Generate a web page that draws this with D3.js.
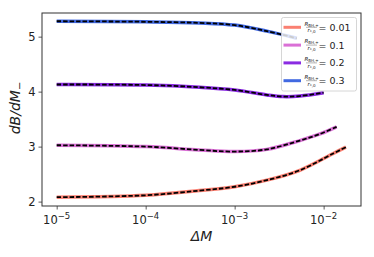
<!DOCTYPE html>
<html>
<head>
<meta charset="utf-8">
<script src="https://cdn.jsdelivr.net/npm/d3@7"></script>
<style>
body { margin: 0; background: #fff; }
text { font-family: "DejaVu Sans", sans-serif; fill: #222; }
</style>
</head>
<body>
<div id="chart"></div>
<script>
// chart values
const ratios = ["0.01", "0.1", "0.2", "0.3"];
const colors = ["#fa8072", "#da70d6", "#8a2be2", "#4169e1"];

const dm001 = [1e-5, 1e-4, 4e-4, 1e-3, 2.3e-3, 5.4e-3, 1.3e-2, 1.78e-2];
const val001 = [2.08, 2.115, 2.20, 2.27, 2.39, 2.57, 2.88, 2.99];
const dm01 = [1e-5, 1e-4, 4e-4, 1e-3, 2.3e-3, 5.4e-3, 9.1e-3, 1.4e-2];
const val01 = [3.025, 3.00, 2.94, 2.91, 2.95, 3.11, 3.23, 3.36];
const dm02 = [1e-5, 1e-4, 4e-4, 1e-3, 2.3e-3, 3.5e-3, 5.4e-3, 1e-2];
const val02 = [4.13, 4.12, 4.08, 4.03, 3.94, 3.91, 3.92, 3.98];
const dm03 = [1e-5, 1e-4, 4e-4, 1e-3, 2.3e-3, 5e-3];
const val03 = [5.28, 5.27, 5.25, 5.21, 5.10, 4.97];

const xTicks = [1e-5, 1e-4, 1e-3, 1e-2];
const xTickExp = ["\u22125", "\u22124", "\u22123", "\u22122"];
const yTicks = [2, 3, 4, 5];

const width = 374, height = 257;
const margin = { top: 13, bottom: 51, left: 42, right: 13 };

const svg = d3.select("#chart").append("svg")
    .attr("width", width)
    .attr("height", height);

const x = d3.scaleLog()
    .domain([Math.pow(10, -5.165), Math.pow(10, -1.58)])
    .range([margin.left, width - margin.right]);
const y = d3.scaleLinear()
    .domain([1.92, 5.43])
    .range([height - margin.bottom, margin.top]);

const series = [
  { dm: dm001, val: val001 },
  { dm: dm01, val: val01 },
  { dm: dm02, val: val02 },
  { dm: dm03, val: val03 }
].map((s, i) => ({ color: colors[i], label: ratios[i],
    pts: s.dm.map((d, j) => [d, s.val[j]]) }));

const line = d3.line()
    .x(d => x(d[0]))
    .y(d => y(d[1]))
    .curve(d3.curveCatmullRom.alpha(0.5));

// curves: thick coloured line with black dashes on top
const gl = svg.append("g");
series.forEach(s => {
  gl.append("path").datum(s.pts)
    .attr("d", line).attr("fill", "none")
    .attr("stroke", s.color).attr("stroke-width", 3.5);
  gl.append("path").datum(s.pts)
    .attr("d", line).attr("fill", "none")
    .attr("stroke", "#000").attr("stroke-width", 1.8)
    .attr("stroke-dasharray", "4.5,2");
});

// x axis, major + minor ticks
const minor = [];
for (let e = -6; e <= -1; e++) {
  for (let k = 2; k <= 9; k++) {
    const v = k * Math.pow(10, e);
    if (v > x.domain()[0] && v < x.domain()[1]) minor.push(v);
  }
}
const xb = height - margin.bottom;
const gx = svg.append("g").attr("transform", `translate(0,${xb})`);
gx.call(d3.axisBottom(x).tickValues(minor).tickSize(2).tickFormat(""));
gx.call(d3.axisBottom(x).tickValues(xTicks).tickSize(3.5).tickFormat(""));
gx.select(".domain").remove();
gx.selectAll("line").attr("stroke", "#333").attr("stroke-width", 0.8);

xTicks.forEach((t, i) => {
  const tx = svg.append("text")
      .attr("x", x(t)).attr("y", xb + 17.5)
      .attr("text-anchor", "middle")
      .style("font-size", "11.5px");
  tx.append("tspan").text("10");
  tx.append("tspan").attr("dy", -5).style("font-size", "8.5px").text(xTickExp[i]);
});

// y axis
const gy = svg.append("g").attr("transform", `translate(${margin.left},0)`);
gy.call(d3.axisLeft(y).tickValues(yTicks).tickSize(3.5).tickPadding(3).tickFormat(d3.format("d")));
gy.select(".domain").remove();
gy.selectAll("line").attr("stroke", "#333").attr("stroke-width", 0.8);
gy.selectAll("text").style("font-size", "11.5px").attr("fill", "#222");

// frame
svg.append("rect")
    .attr("x", margin.left).attr("y", margin.top)
    .attr("width", width - margin.left - margin.right)
    .attr("height", height - margin.top - margin.bottom)
    .attr("fill", "none").attr("stroke", "#333").attr("stroke-width", 1);

// axis labels
svg.append("text")
    .attr("x", (margin.left + width - margin.right) / 2).attr("y", 240.5)
    .attr("text-anchor", "middle")
    .style("font-size", "14px").style("font-style", "italic")
    .text("\u0394M");

const yl = svg.append("text")
    .attr("transform", "translate(20,108) rotate(-90)")
    .attr("text-anchor", "middle")
    .style("font-size", "14px").style("font-style", "italic");
yl.append("tspan").text("dB/dM");
yl.append("tspan").attr("dy", 3).style("font-size", "10px").text("\u2212");

// legend
const lg = svg.append("g");
lg.append("rect")
    .attr("x", 281.5).attr("y", 17.5).attr("width", 75).attr("height", 73.5)
    .attr("rx", 2)
    .attr("fill", "#fff").attr("fill-opacity", 0.8)
    .attr("stroke", "#ccc").attr("stroke-width", 0.8);
series.forEach((s, i) => {
  const ly = 27.3 + i * 17.8;
  lg.append("line")
    .attr("x1", 283.5).attr("x2", 301).attr("y1", ly).attr("y2", ly)
    .attr("stroke", s.color).attr("stroke-width", 3);
  // fraction R_BH,+ / r_*,0
  const num = lg.append("text").attr("x", 311.5).attr("y", ly - 1.8)
      .attr("text-anchor", "middle").style("font-size", "5.5px").style("font-style", "italic");
  num.append("tspan").text("R");
  num.append("tspan").attr("dy", 1).style("font-size", "4px").style("font-style", "normal").text("BH,+");
  lg.append("line")
    .attr("x1", 306).attr("x2", 317).attr("y1", ly).attr("y2", ly)
    .attr("stroke", "#444").attr("stroke-width", 0.4);
  const den = lg.append("text").attr("x", 311.5).attr("y", ly + 5)
      .attr("text-anchor", "middle").style("font-size", "5.5px").style("font-style", "italic");
  den.append("tspan").text("r");
  den.append("tspan").attr("dy", 1).style("font-size", "4px").style("font-style", "normal").text("*,0");
  lg.append("text").attr("x", 318.5).attr("y", ly + 3.5)
    .style("font-size", "9.5px").text("= " + s.label);
});
</script>
</body>
</html>
